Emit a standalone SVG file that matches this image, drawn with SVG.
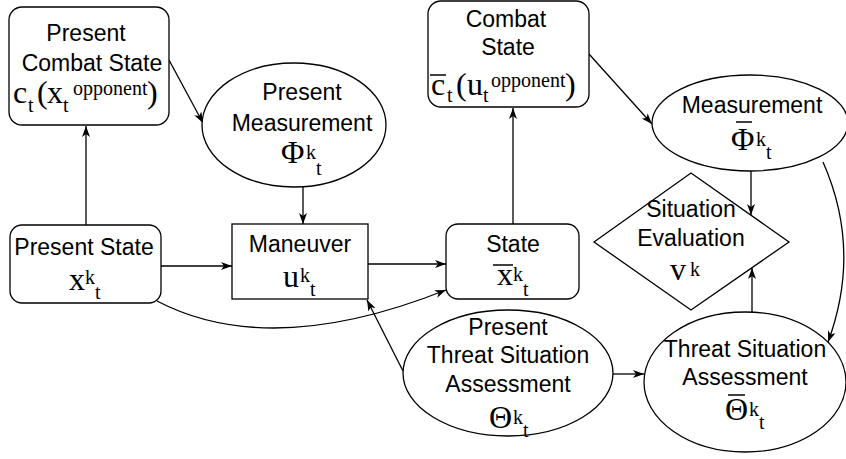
<svg xmlns="http://www.w3.org/2000/svg" width="846" height="459" viewBox="0 0 846 459">
<defs>
<style>
.s{fill:#fff;stroke:#000;stroke-width:1.3}
.c{fill:none;stroke:#000;stroke-width:1.3}
.t{font-family:"Liberation Sans",Arial,sans-serif;font-size:23px;fill:#000;text-anchor:middle}
.m{font-family:"Liberation Serif","Times New Roman",serif;font-size:32px;fill:#000}
.m .sc{font-size:20px}
.ov{stroke:#000;stroke-width:1.5}
</style>
<marker id="ah" markerWidth="12" markerHeight="9" refX="11" refY="4" orient="auto" markerUnits="userSpaceOnUse">
<path d="M0,0 L11,4 L0,8 L3,4 Z" fill="#000"/>
</marker>
</defs>
<g id="connectors">
<path class="c" d="M86,225 L86,126" marker-end="url(#ah)"/>
<path class="c" d="M169,60 L203,123" marker-end="url(#ah)"/>
<path class="c" d="M303,187 L303,224" marker-end="url(#ah)"/>
<path class="c" d="M161,266 L232,266" marker-end="url(#ah)"/>
<path class="c" d="M368,264 L446,264" marker-end="url(#ah)"/>
<path class="c" d="M157,301 Q270,360 446,290" marker-end="url(#ah)"/>
<path class="c" d="M403,371 L367,300" marker-end="url(#ah)"/>
<path class="c" d="M613,374 L644,374" marker-end="url(#ah)"/>
<path class="c" d="M513,224 L513,108" marker-end="url(#ah)"/>
<path class="c" d="M589,54 L652,124" marker-end="url(#ah)"/>
<path class="c" d="M751,171 L751,215" marker-end="url(#ah)"/>
<path class="c" d="M752,312 L752,268" marker-end="url(#ah)"/>
<path class="c" d="M823,162 Q862,250 828,342" marker-end="url(#ah)"/>
</g>
<g id="present-combat-state">
<rect class="s" x="9" y="7" width="160" height="118" rx="13"/>
<text class="t" x="86" y="41">Present</text>
<text class="t" x="92" y="71">Combat State</text>
<text class="m"><tspan x="13" y="103">c</tspan><tspan class="sc" x="28" y="112">t</tspan><tspan x="37" y="103">(</tspan><tspan x="47" y="103">x</tspan><tspan class="sc" x="63" y="112">t</tspan><tspan class="sc" x="73" y="95">opponent</tspan><tspan x="147" y="103">)</tspan></text>
</g>
<g id="present-measurement">
<ellipse class="s" cx="294" cy="125" rx="92" ry="62"/>
<text class="t" x="302" y="100">Present</text>
<text class="t" x="302" y="131">Measurement</text>
<text class="m"><tspan x="281" y="163">Φ</tspan><tspan class="sc" x="306" y="159">k</tspan><tspan class="sc" x="316" y="175">t</tspan></text>
</g>
<g id="combat-state">
<rect class="s" x="428" y="1" width="161" height="106" rx="13"/>
<text class="t" x="506" y="27">Combat</text>
<text class="t" x="508" y="55">State</text>
<line class="ov" x1="430" y1="75" x2="446" y2="75"/>
<text class="m"><tspan x="431" y="95">c</tspan><tspan class="sc" x="447" y="102">t</tspan><tspan x="456" y="95">(</tspan><tspan x="467" y="95">u</tspan><tspan class="sc" x="483" y="102">t</tspan><tspan class="sc" x="491" y="87">opponent</tspan><tspan x="565" y="95">)</tspan></text>
</g>
<g id="measurement">
<ellipse class="s" cx="750" cy="123" rx="98" ry="48"/>
<text class="t" x="752" y="113">Measurement</text>
<line class="ov" x1="736" y1="122" x2="752" y2="122"/>
<text class="m"><tspan x="731" y="150">Φ</tspan><tspan class="sc" x="756" y="146">k</tspan><tspan class="sc" x="766" y="159">t</tspan></text>
</g>
<g id="present-state">
<rect class="s" x="10" y="225" width="151" height="78" rx="12"/>
<text class="t" x="84" y="255">Present State</text>
<text class="m"><tspan x="69" y="290">x</tspan><tspan class="sc" x="85" y="284">k</tspan><tspan class="sc" x="95" y="299">t</tspan></text>
</g>
<g id="maneuver">
<rect class="s" x="232" y="224" width="136" height="75"/>
<text class="t" x="300" y="252">Maneuver</text>
<text class="m"><tspan x="283" y="287">u</tspan><tspan class="sc" x="300" y="282">k</tspan><tspan class="sc" x="310" y="296">t</tspan></text>
</g>
<g id="state">
<rect class="s" x="446" y="224" width="133" height="75" rx="12"/>
<text class="t" x="513" y="252">State</text>
<line class="ov" x1="493" y1="265" x2="513" y2="265"/>
<text class="m"><tspan x="497" y="285">x</tspan><tspan class="sc" x="513" y="281">k</tspan><tspan class="sc" x="523" y="296">t</tspan></text>
</g>
<g id="situation-evaluation">
<polygon class="s" points="594,242 691,173 789,242 691,310"/>
<text class="t" x="691" y="217">Situation</text>
<text class="t" x="691" y="246">Evaluation</text>
<text class="m"><tspan x="670" y="280">v</tspan><tspan class="sc" x="690" y="276">k</tspan></text>
</g>
<g id="present-threat-situation-assessment">
<ellipse class="s" cx="508" cy="373" rx="105" ry="63"/>
<text class="t" x="508" y="335">Present</text>
<text class="t" x="508" y="363">Threat Situation</text>
<text class="t" x="508" y="392">Assessment</text>
<text class="m"><tspan x="489" y="428">Θ</tspan><tspan class="sc" x="513" y="424">k</tspan><tspan class="sc" x="523" y="437">t</tspan></text>
</g>
<g id="threat-situation-assessment">
<ellipse class="s" cx="745" cy="382" rx="101" ry="70"/>
<text class="t" x="745" y="357">Threat Situation</text>
<text class="t" x="745" y="385">Assessment</text>
<line class="ov" x1="728" y1="395" x2="745" y2="395"/>
<text class="m"><tspan x="725" y="420">Θ</tspan><tspan class="sc" x="749" y="416">k</tspan><tspan class="sc" x="759" y="429">t</tspan></text>
</g>
</svg>
